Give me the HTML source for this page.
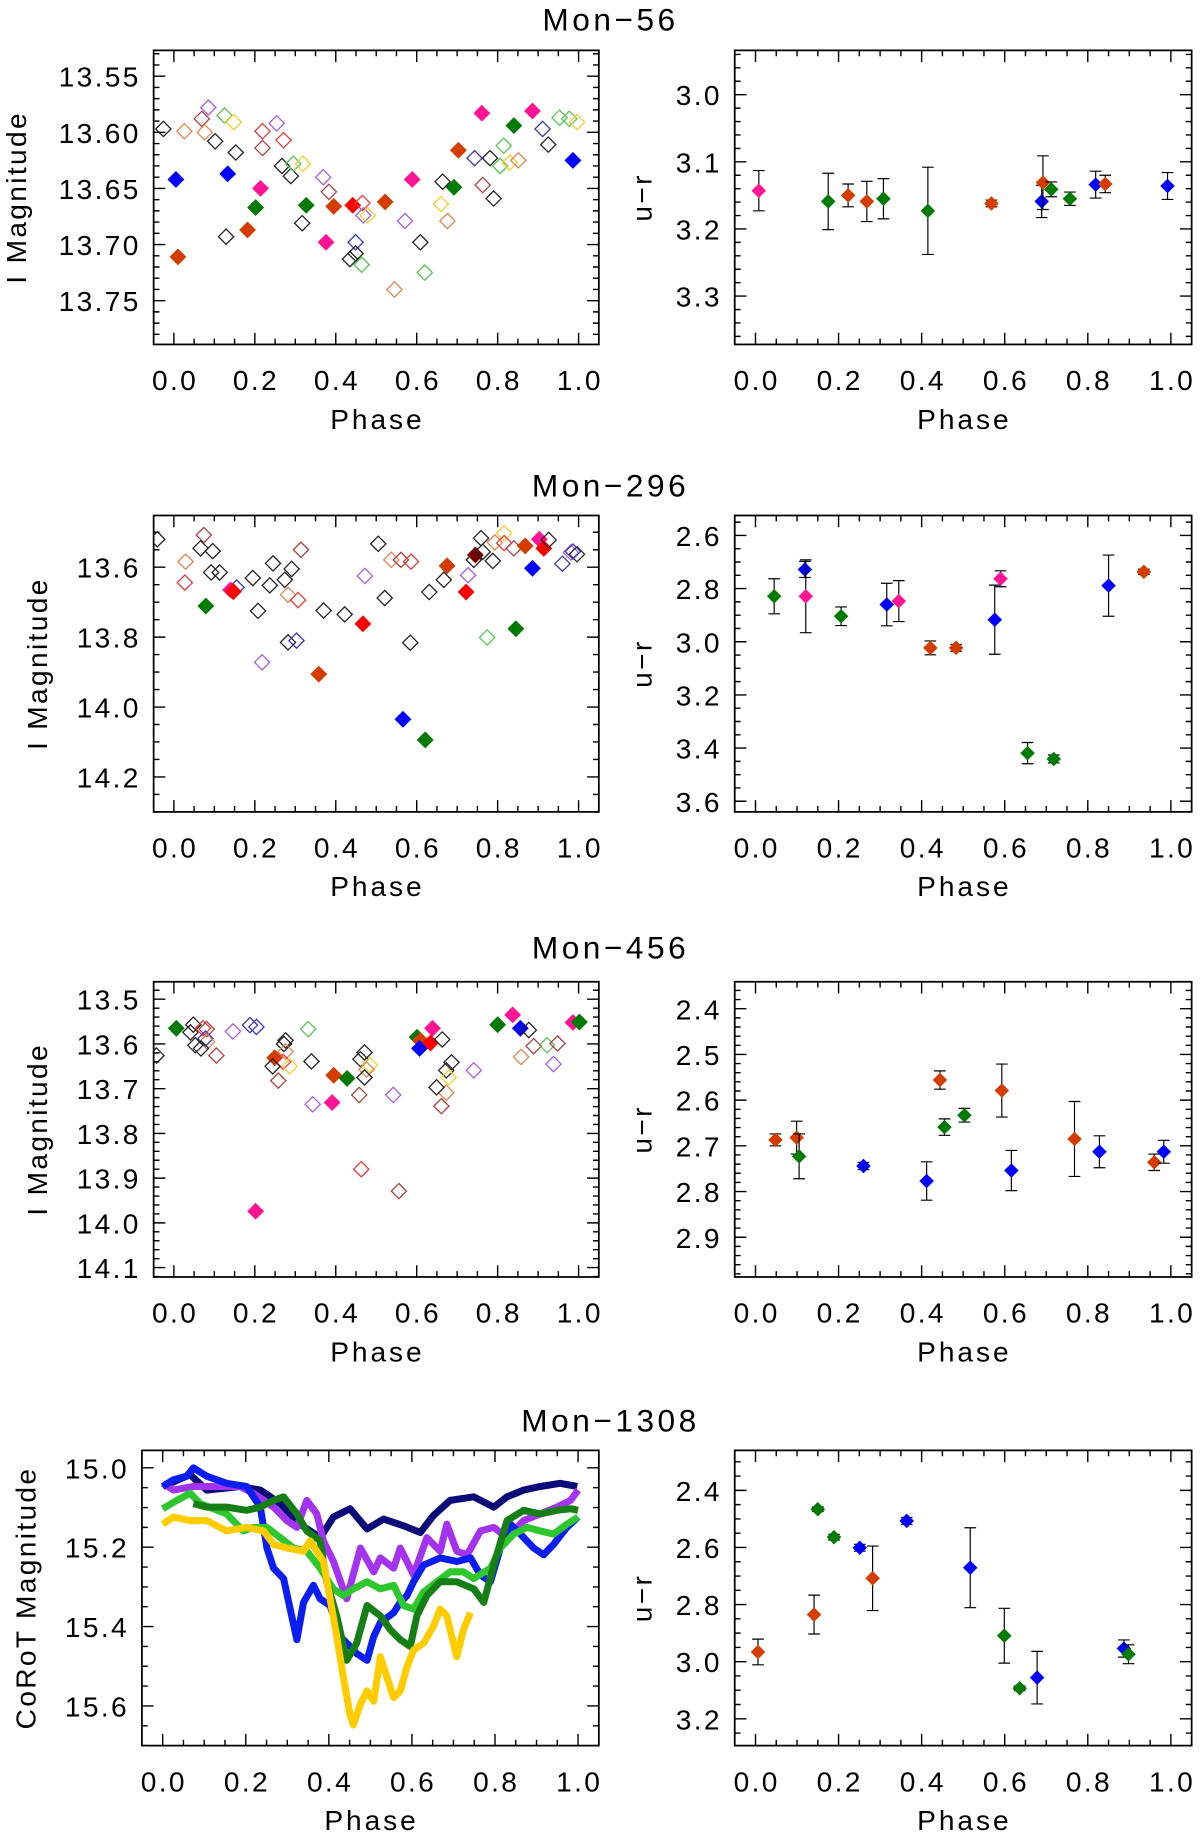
<!DOCTYPE html>
<html><head><meta charset="utf-8"><style>
html,body{margin:0;padding:0;background:#fff;}
svg{display:block;}
text{font-family:"Liberation Sans",sans-serif;fill:#000;}
</style></head><body>
<svg id="fig" width="1200" height="1837" viewBox="0 0 1024 1568" xmlns="http://www.w3.org/2000/svg"></svg>
<script>
// ---------- Mon-56 light curve ----------
const m56Phase=[-0.026,0.026,0.005,0.010,0.069,0.076,0.085,0.102,0.125,0.148,0.133,0.153,0.129,0.182,0.202,0.214,0.219,0.219,0.254,0.271,0.267,0.289,0.295,0.319,0.317,0.327,0.369,0.376,0.383,0.395,0.442,0.466,0.468,0.479,0.449,0.449,0.435,0.464,0.522,0.545,0.571,0.589,0.609,0.620,0.664,0.660,0.676,0.692,0.703,0.743,0.761,0.763,0.781,0.790,0.806,0.815,0.830,0.851,0.840,0.886,0.911,0.925,0.953,0.977,0.996,0.986];
const m56Mag=[13.597,13.599,13.642,13.711,13.588,13.600,13.578,13.608,13.585,13.591,13.637,13.618,13.693,13.687,13.667,13.650,13.599,13.614,13.592,13.607,13.630,13.639,13.628,13.628,13.681,13.665,13.640,13.698,13.653,13.666,13.665,13.663,13.674,13.674,13.698,13.708,13.713,13.718,13.662,13.740,13.679,13.642,13.698,13.725,13.644,13.664,13.679,13.649,13.616,13.623,13.583,13.647,13.623,13.659,13.630,13.612,13.627,13.625,13.594,13.581,13.597,13.611,13.587,13.588,13.591,13.625];
const m56Kind=["k","o","B","O","d","o","p","k","g","y","B","k","k","O","G","P","r","d","p","r","k","k","g","y","k","G","p","P","d","O","R","r","p","y","b","k","k","g","O","o","p","P","k","g","k","y","o","G","O","n","P","d","k","k","g","g","y","o","G","P","n","k","g","g","y","B"];
// ---------- Mon-56 colour ----------
const c56Phase=[0.008,0.175,0.223,0.268,0.308,0.415,0.568,0.689,0.692,0.712,0.757,0.819,0.842,0.992];
const c56Val=[3.143,3.159,3.150,3.159,3.155,3.173,3.162,3.159,3.131,3.141,3.155,3.134,3.133,3.136];
const c56Err=[0.03,0.042,0.017,0.03,0.03,0.065,0.005,0.024,0.04,0.011,0.01,0.02,0.013,0.02];
const c56Kind=["P","G","O","O","G","G","O","B","O","G","G","B","O","B"];
// ---------- Mon-296 light curve ----------
const m296Phase=[-0.041,0.074,0.066,0.096,0.029,0.027,0.092,0.113,0.079,0.155,0.140,0.147,0.195,0.208,0.237,0.245,0.274,0.291,0.282,0.307,0.314,0.218,0.282,0.303,0.358,0.370,0.422,0.467,0.472,0.505,0.521,0.537,0.561,0.586,0.584,0.566,0.621,0.631,0.667,0.675,0.722,0.727,0.741,0.745,0.763,0.759,0.788,0.774,0.845,0.793,0.816,0.816,0.840,0.868,0.886,0.903,0.914,0.926,0.960,0.981,0.996,0.986];
const m296Mag=[13.520,13.508,13.546,13.554,13.584,13.644,13.615,13.615,13.711,13.658,13.665,13.670,13.631,13.725,13.652,13.589,13.636,13.605,13.679,13.694,13.550,13.872,13.815,13.810,13.906,13.724,13.735,13.762,13.625,13.533,13.688,13.579,13.579,13.584,13.816,14.035,14.094,13.671,13.636,13.596,13.671,13.623,13.579,13.565,13.556,13.517,13.582,13.801,13.776,13.529,13.503,13.531,13.546,13.539,13.603,13.520,13.546,13.522,13.590,13.558,13.563,13.555];
const m296Kind=["k","d","k","k","o","r","k","k","G","b","P","R","k","k","k","k","k","k","o","r","d","p","k","b","O","k","k","R","p","k","k","o","d","r","k","B","G","k","k","O","R","p","k","D","k","k","k","g","G","o","y","r","d","O","B","P","R","k","n","p","k","n"];
// ---------- Mon-296 colour ----------
const c296Phase=[0.045,0.119,0.121,0.206,0.316,0.345,0.421,0.483,0.576,0.590,0.655,0.718,0.850,0.935];
const c296Val=[2.829,2.728,2.829,2.904,2.860,2.847,3.023,3.023,2.917,2.763,3.419,3.441,2.789,2.737];
const c296Err=[0.066,0.03,0.137,0.035,0.08,0.077,0.026,0.013,0.13,0.03,0.04,0.015,0.115,0.01];
const c296Kind=["G","B","P","G","B","P","O","O","B","P","G","G","B","O"];
// ---------- Mon-456 light curve ----------
const m456Phase=[-0.043,0.006,0.048,0.041,0.072,0.081,0.078,0.082,0.053,0.067,0.105,0.146,0.188,0.204,0.276,0.272,0.276,0.249,0.270,0.286,0.244,0.258,0.332,0.340,0.343,0.391,0.395,0.428,0.471,0.461,0.484,0.476,0.471,0.458,0.463,0.556,0.542,0.601,0.609,0.607,0.634,0.639,0.663,0.686,0.673,0.679,0.673,0.649,0.661,0.741,0.800,0.837,0.856,0.877,0.858,0.889,0.922,0.948,0.938,0.986,1.002,0.202];
const m456Mag=[13.626,13.565,13.557,13.574,13.565,13.567,13.588,13.595,13.603,13.610,13.626,13.572,13.558,13.562,13.592,13.600,13.617,13.631,13.640,13.650,13.650,13.682,13.567,13.639,13.735,13.731,13.670,13.677,13.619,13.634,13.647,13.657,13.675,13.714,13.880,13.929,13.714,13.585,13.592,13.610,13.598,13.565,13.590,13.641,13.659,13.675,13.709,13.697,13.739,13.659,13.557,13.535,13.565,13.569,13.629,13.605,13.603,13.599,13.645,13.552,13.551,13.974];
const m456Kind=["k","G","k","k","r","d","b","o","k","k","d","p","n","b","k","k","o","O","r","y","k","d","g","k","p","P","O","G","k","k","y","o","k","d","r","d","p","G","O","B","R","P","k","k","k","y","o","k","d","p","G","P","B","k","o","d","g","d","p","P","G","P"];
// ---------- Mon-456 colour ----------
const c456Phase=[0.048,0.099,0.105,0.260,0.412,0.444,0.455,0.503,0.593,0.616,0.768,0.828,0.960,0.983];
const c456Val=[2.687,2.682,2.723,2.744,2.777,2.556,2.659,2.633,2.579,2.754,2.685,2.713,2.736,2.713];
const c456Err=[0.013,0.036,0.049,0.008,0.042,0.02,0.018,0.015,0.058,0.044,0.082,0.035,0.018,0.025];
const c456Kind=["O","O","G","B","B","O","G","G","O","B","O","B","O","B"];
// ---------- Mon-1308 CoRoT light curves ----------
const navyPhase=[0,0.066,0.106,0.186,0.235,0.283,0.331,0.379,0.411,0.451,0.492,0.532,0.580,0.620,0.652,0.692,0.749,0.797,0.829,0.869,0.909,0.957,0.998];
const navyMag=[15.047,15.017,15.056,15.047,15.056,15.090,15.142,15.176,15.124,15.103,15.154,15.129,15.146,15.163,15.120,15.082,15.073,15.099,15.073,15.056,15.047,15.039,15.047];
const purplePhase=[0,0.026,0.074,0.130,0.186,0.218,0.267,0.299,0.323,0.347,0.371,0.387,0.411,0.443,0.476,0.508,0.524,0.556,0.572,0.604,0.636,0.668,0.684,0.708,0.733,0.765,0.797,0.829,0.869,0.909,0.949,0.982,1.0];
const purpleMag=[15.039,15.056,15.047,15.047,15.047,15.064,15.099,15.133,15.150,15.082,15.116,15.184,15.236,15.330,15.202,15.262,15.227,15.253,15.202,15.270,15.176,15.210,15.142,15.210,15.219,15.159,15.150,15.176,15.133,15.116,15.099,15.082,15.056];
const bluePhase=[0,0.026,0.058,0.074,0.106,0.154,0.202,0.235,0.251,0.267,0.291,0.307,0.323,0.339,0.363,0.379,0.403,0.427,0.451,0.467,0.492,0.508,0.524,0.556,0.572,0.588,0.604,0.628,0.668,0.708,0.741,0.765,0.789,0.813,0.837,0.861,0.893,0.917,0.941,0.973,1.0];
const blueMag=[15.047,15.030,15.021,15.000,15.021,15.039,15.047,15.099,15.202,15.253,15.279,15.356,15.433,15.339,15.296,15.330,15.347,15.425,15.450,15.468,15.485,15.425,15.390,15.365,15.339,15.322,15.287,15.245,15.227,15.236,15.227,15.270,15.287,15.202,15.142,15.167,15.202,15.219,15.193,15.150,15.124];
const lgreenPhase=[0,0.034,0.066,0.090,0.154,0.194,0.218,0.251,0.283,0.315,0.347,0.379,0.411,0.435,0.459,0.492,0.524,0.556,0.580,0.604,0.628,0.660,0.692,0.724,0.749,0.789,0.813,0.845,0.877,0.909,0.941,0.973,1.0];
const lgreenMag=[15.103,15.082,15.064,15.090,15.116,15.159,15.150,15.150,15.176,15.202,15.210,15.253,15.305,15.322,15.305,15.287,15.305,15.296,15.347,15.356,15.313,15.287,15.262,15.262,15.279,15.253,15.202,15.167,15.150,15.159,15.167,15.142,15.124];
const dgreenPhase=[0.074,0.106,0.154,0.202,0.235,0.267,0.291,0.323,0.347,0.379,0.395,0.419,0.443,0.467,0.492,0.524,0.548,0.572,0.596,0.612,0.636,0.668,0.708,0.749,0.773,0.797,0.829,0.869,0.909,0.949,0.982,1.0];
const dgreenMag=[15.090,15.099,15.099,15.107,15.099,15.082,15.073,15.116,15.159,15.184,15.287,15.373,15.485,15.442,15.347,15.373,15.408,15.433,15.450,15.373,15.322,15.287,15.287,15.305,15.339,15.245,15.133,15.107,15.116,15.107,15.103,15.107];
const yellowPhase=[0,0.026,0.066,0.106,0.154,0.202,0.243,0.267,0.299,0.339,0.355,0.387,0.403,0.419,0.435,0.451,0.459,0.476,0.492,0.508,0.524,0.540,0.556,0.572,0.588,0.604,0.628,0.652,0.668,0.684,0.708,0.724,0.741];
const yellowMag=[15.142,15.124,15.133,15.133,15.159,15.150,15.159,15.193,15.202,15.210,15.184,15.236,15.330,15.425,15.528,15.622,15.648,15.596,15.562,15.588,15.476,15.528,15.579,15.562,15.502,15.459,15.442,15.399,15.356,15.373,15.476,15.408,15.365];
// ---------- Mon-1308 colour ----------
const c1308Phase=[0.006,0.141,0.150,0.189,0.251,0.282,0.364,0.517,0.599,0.636,0.678,0.887,0.898];
const c1308Val=[2.966,2.835,2.466,2.564,2.601,2.708,2.507,2.671,2.909,3.093,3.056,2.954,2.974];
const c1308Err=[0.045,0.068,0.008,0.01,0.012,0.113,0.012,0.14,0.096,0.008,0.092,0.03,0.033];
const c1308Kind=["O","O","G","G","B","O","B","B","G","G","B","B","G"];

const NS="http://www.w3.org/2000/svg";
const svg=document.getElementById('fig');
const COL={k:"#222",o:"#e8844e",r:"#e83a3a",d:"#b04040",p:"#a35ee6",g:"#55c655",y:"#f2d12a",n:"#3b3ba8",b:"#3434e0",
O:"#d43c00",R:"#ff0000",G:"#007a00",B:"#0000ff",P:"#ff1493",D:"#7a0000"};
function mk(tag,attrs,parent){const e=document.createElementNS(NS,tag);for(const k in attrs)e.setAttribute(k,attrs[k]);(parent||svg).appendChild(e);return e;}

function panel(name,L,T,R,Bt,ymin,ymax,yt,ydec,yminor,ylab,ylabX){
  const g=mk('g',{});
  
  
  const xmin=-0.05,xmax=1.05;
  const sx=v=>L+(v-xmin)/(xmax-xmin)*(R-L);
  const sy=v=>T+(v-ymin)/(ymax-ymin)*(Bt-T);
  const fr=mk('rect',{x:L,y:T,width:R-L,height:Bt-T,fill:'none',stroke:'#000','stroke-width':1.5},g);
  
  
  let d='';
  for(let i=0;i<=20;i++){const v=i*0.05;const x=sx(v);const len=(i%4===0)?10:5;
    d+=`M${x},${Bt}v${-len}M${x},${T}v${len}`;}
  const n=Math.round((ymax-ymin)/yminor)+2;
  const start=Math.ceil(ymin/yminor-1e-6)*yminor;
  for(let i=0;i<n;i++){const v=start+i*yminor;if(v>ymax+1e-9)break;const y=sy(v);
    const major=yt.some(t=>Math.abs(t-v)<1e-6);const len=major?10:5;
    d+=`M${L},${y}h${len}M${R},${y}h${-len}`;}
  mk('path',{d:d,stroke:'#000','stroke-width':1.2,fill:'none'},g);
  const xt=[0,0.2,0.4,0.6,0.8,1.0];
  xt.forEach(v=>{const t=mk('text',{x:sx(v)+1,y:Bt+39,'font-size':24,'text-anchor':'middle','letter-spacing':2},g);t.textContent=v.toFixed(1);
    
    });
  yt.forEach(v=>{const t=mk('text',{x:L-11,y:sy(v)+9,'font-size':24,'text-anchor':'end','letter-spacing':2},g);t.textContent=v.toFixed(ydec);
    
    });
  const xl=mk('text',{x:(L+R)/2+1,y:Bt+72,'font-size':24,'text-anchor':'middle','letter-spacing':2.5},g);xl.textContent='Phase';
  
  
  const yl=mk('text',{x:0,y:0,'font-size':24,'text-anchor':'middle','letter-spacing':2,transform:`translate(${ylabX},${(T+Bt)/2}) rotate(-90)`},g);yl.textContent=ylab;
  
  
  const clip='c'+name;
  const cp=mk('clipPath',{id:clip},g);mk('rect',{x:L,y:T,width:R-L,height:Bt-T},cp);
  const dg=mk('g',{'clip-path':`url(#${clip})`},g);
  return {sx,sy,dg};
}
function diamond(p,x,y,h,kind,name){
  const filled=kind===kind.toUpperCase();
  const e=mk('path',{d:`M${x},${y-h}L${x+h},${y}L${x},${y+h}L${x-h},${y}Z`,fill:filled?COL[kind]:'none',stroke:COL[kind],'stroke-width':filled?1:1.1},p);
  
  
}
function scatter(P,ph,mag,kind){
  for(let i=0;i<ph.length;i++)diamond(P.dg,P.sx(ph[i]),P.sy(mag[i]),6.5,kind[i],'data-point');
}
function errs(P,ph,val,err,kind){
  for(let i=0;i<ph.length;i++){const x=P.sx(ph[i]);
    const e=mk('path',{d:`M${x},${P.sy(val[i]-err[i])}V${P.sy(val[i]+err[i])}M${x-5},${P.sy(val[i]-err[i])}h10M${x-5},${P.sy(val[i]+err[i])}h10`,stroke:'#000','stroke-width':1,fill:'none'},P.dg);
    
    
    diamond(P.dg,x,P.sy(val[i]),5.5,kind[i],'color-point');}
}
function title(txt,y){const t=mk('text',{x:521,y:y,'font-size':27,'text-anchor':'middle','letter-spacing':3});t.textContent=txt;
  
  }

title('Mon\u221256',26);
let P=panel('mon56-mag',131,43,511,294,13.527,13.789,[13.55,13.60,13.65,13.70,13.75],2,0.01,'I Magnitude',22);
scatter(P,m56Phase,m56Mag,m56Kind);
P=panel('mon56-color',627,43,1017,294,2.934,3.372,[3.0,3.1,3.2,3.3],1,0.02,'u\u2212r',556);
errs(P,c56Phase,c56Val,c56Err,c56Kind);

title('Mon\u2212296',424);
P=panel('mon296-mag',131,440,511,693,13.452,14.30,[13.6,13.8,14.0,14.2],1,0.05,'I Magnitude',40);
scatter(P,m296Phase,m296Mag,m296Kind);
P=panel('mon296-color',627,440,1017,693,2.525,3.64,[2.6,2.8,3.0,3.2,3.4,3.6],1,0.05,'u\u2212r',556);
errs(P,c296Phase,c296Val,c296Err,c296Kind);

title('Mon\u2212456',818);
P=panel('mon456-mag',131,838,511,1090,13.461,14.121,[13.5,13.6,13.7,13.8,13.9,14.0,14.1],1,0.02,'I Magnitude',40);
scatter(P,m456Phase,m456Mag,m456Kind);
P=panel('mon456-color',627,838,1017,1090,2.341,2.987,[2.4,2.5,2.6,2.7,2.8,2.9],1,0.02,'u\u2212r',556);
errs(P,c456Phase,c456Val,c456Err,c456Kind);

title('Mon\u22121308',1222);
P=panel('mon1308-mag',121,1238,511,1490,14.956,15.70,[15.0,15.2,15.4,15.6],1,0.05,'CoRoT Magnitude',30);
[[navyPhase,navyMag,'#0a0a78','navy-curve'],[purplePhase,purpleMag,'#a433f0','purple-curve'],[bluePhase,blueMag,'#0a1ef0','blue-curve'],[lgreenPhase,lgreenMag,'#2ec82e','light-green-curve'],[dgreenPhase,dgreenMag,'#157f15','dark-green-curve'],[yellowPhase,yellowMag,'#ffcc00','yellow-curve']].forEach(s=>{
  let d='';for(let i=0;i<s[0].length;i++)d+=(i?'L':'M')+P.sx(s[0][i])+','+P.sy(s[1][i]);
  const e=mk('path',{d:d,stroke:s[2],'stroke-width':6,fill:'none','stroke-linejoin':'round'},P.dg);
  
  
});
P=panel('mon1308-color',627,1238,1017,1490,2.26,3.294,[2.4,2.6,2.8,3.0,3.2],1,0.05,'u\u2212r',556);
errs(P,c1308Phase,c1308Val,c1308Err,c1308Kind);
</script>
</body></html>
